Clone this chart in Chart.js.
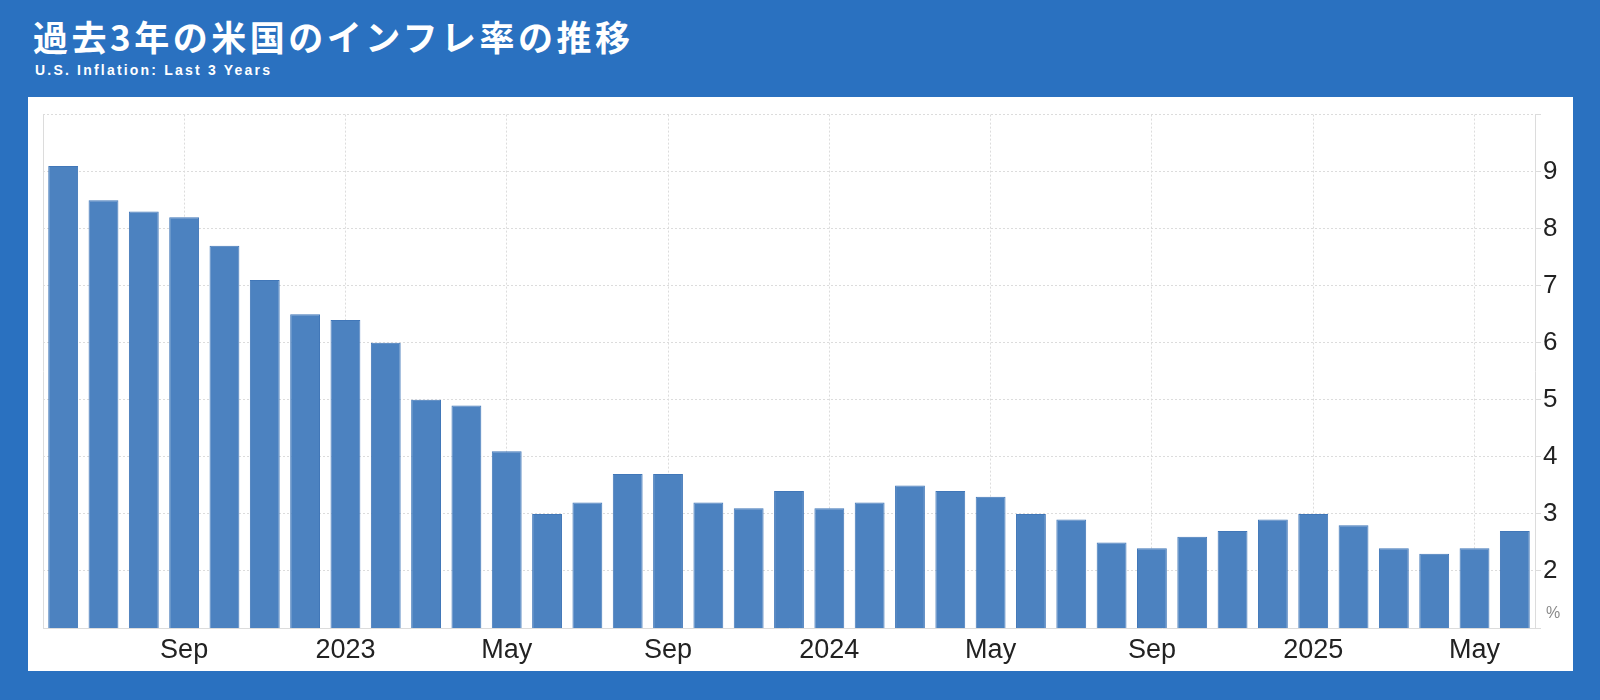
<!DOCTYPE html>
<html>
<head>
<meta charset="utf-8">
<script src="https://cdn.jsdelivr.net/npm/chart.js@4.4.1/dist/chart.umd.min.js"></script>
<style>
  html, body { margin: 0; padding: 0; }
  body { width: 1600px; height: 700px; background: #2a71c0; position: relative; overflow: hidden; }
  #title {
    position: absolute; left: 33px; top: 18px;
    font-family: "Noto Sans CJK JP", sans-serif; font-weight: 700;
    font-size: 35px; line-height: 35px; letter-spacing: 3.5px; color: #fff;
  }
  #subtitle {
    position: absolute; left: 35px; top: 63px;
    font-family: "Liberation Sans", Arial, sans-serif; font-weight: 700;
    font-size: 14px; line-height: 14px; letter-spacing: 2.2px; color: #fff;
  }
  #panel { position: absolute; left: 28px; top: 97px; width: 1545px; height: 574px; background: #fff; }
</style>
</head>
<body>
<div id="title">過去3年の米国のインフレ率の推移</div>
<div id="subtitle">U.S. Inflation: Last 3 Years</div>
<div id="panel"><canvas id="inflation_chart" width="1545" height="574"></canvas></div>
<script>
// months shown as bars (one per month, Jun 2022 .. Jun 2025)
const months = [
  'Jun 2022', 'Jul 2022', 'Aug 2022', 'Sep 2022', 'Oct 2022', 'Nov 2022', 'Dec 2022',
  'Jan 2023', 'Feb 2023', 'Mar 2023', 'Apr 2023', 'May 2023', 'Jun 2023', 'Jul 2023',
  'Aug 2023', 'Sep 2023', 'Oct 2023', 'Nov 2023', 'Dec 2023',
  'Jan 2024', 'Feb 2024', 'Mar 2024', 'Apr 2024', 'May 2024', 'Jun 2024', 'Jul 2024',
  'Aug 2024', 'Sep 2024', 'Oct 2024', 'Nov 2024', 'Dec 2024',
  'Jan 2025', 'Feb 2025', 'Mar 2025', 'Apr 2025', 'May 2025', 'Jun 2025'
]

// yearly inflation rate in %
const inflation = [
  9.1, 8.5, 8.3, 8.2, 7.7, 7.1, 6.5,
  6.4, 6.0, 5.0, 4.9, 4.1, 3.0, 3.2,
  3.7, 3.7, 3.2, 3.1, 3.4,
  3.1, 3.2, 3.5, 3.4, 3.3, 3.0, 2.9,
  2.5, 2.4, 2.6, 2.7, 2.9,
  3.0, 2.8, 2.4, 2.3, 2.4, 2.7
]

// which months get a label (and a vertical grid line) on the x axis
const tick_months = ['Sep 2022', 'Jan 2023', 'May 2023', 'Sep 2023', 'Jan 2024', 'May 2024', 'Sep 2024', 'Jan 2025', 'May 2025']
const tick_labels = ['Sep', '2023', 'May', 'Sep', '2024', 'May', 'Sep', '2025', 'May']

const grid_color = '#dcdcdc'
const text_color = '#222222'

function label_for(index) {
  const pos = tick_months.indexOf(months[index])
  return pos === -1 ? '' : tick_labels[pos]
}

// small "%" under the lowest y tick
const percent_sign = {
  id: 'percent_sign',
  afterDraw(chart) {
    const y = chart.scales.y
    const ctx = chart.ctx
    ctx.save()
    ctx.font = '16px "Liberation Sans", Arial, sans-serif'
    ctx.fillStyle = '#8a8a8a'
    ctx.textBaseline = 'middle'
    ctx.fillText('%', y.left + 11, y.getPixelForValue(1.25))
    ctx.restore()
  }
}

const data_inflation = {
  labels: months,
  datasets: [{
    label: 'U.S. Inflation',
    data: inflation,
    backgroundColor: '#4c82c0',
    borderColor: '#4177b8',
    borderWidth: 1,
    borderSkipped: 'bottom',
    barPercentage: 0.74,
    categoryPercentage: 1.0
  }]
}

const inflation_config = {
  type: 'bar',
  data: data_inflation,
  plugins: [percent_sign],
  options: {
    responsive: false,
    animation: false,
    layout: { padding: { left: 15, top: 16, right: 0, bottom: 0 } },
    plugins: { legend: { display: false }, tooltip: { enabled: false } },
    scales: {
      x: {
        offset: true,
        grid: {
          offset: false,
          drawTicks: false,
          color: (ctx) => label_for(ctx.index) === '' ? 'rgba(0,0,0,0)' : grid_color
        },
        border: { color: grid_color, dash: [2, 2] },
        ticks: {
          autoSkip: false,
          maxRotation: 0,
          padding: 6,
          color: text_color,
          font: { family: '"Liberation Sans", Arial, sans-serif', size: 27 },
          callback: (value, index) => label_for(index)
        },
        afterFit: (scale) => { scale.height = 43 }
      },
      y: {
        position: 'right',
        min: 1,
        max: 10,
        grid: { color: grid_color, tickLength: 6 },
        border: { color: grid_color, dash: [2, 2] },
        ticks: {
          stepSize: 1,
          padding: 2,
          color: text_color,
          font: { family: '"Liberation Sans", Arial, sans-serif', size: 26 },
          callback: (value) => (value === 1 || value === 10) ? '' : value
        },
        afterFit: (scale) => { scale.width = 38 }
      },
      // only there to draw the solid left edge of the plot
      left_edge: {
        position: 'left',
        grid: { drawOnChartArea: false, drawTicks: false },
        border: { color: grid_color },
        ticks: { display: false },
        afterFit: (scale) => { scale.width = 0 }
      }
    }
  }
}

const myInflationChart = new Chart(
  document.getElementById('inflation_chart'),
  inflation_config
)
</script>
</body>
</html>
